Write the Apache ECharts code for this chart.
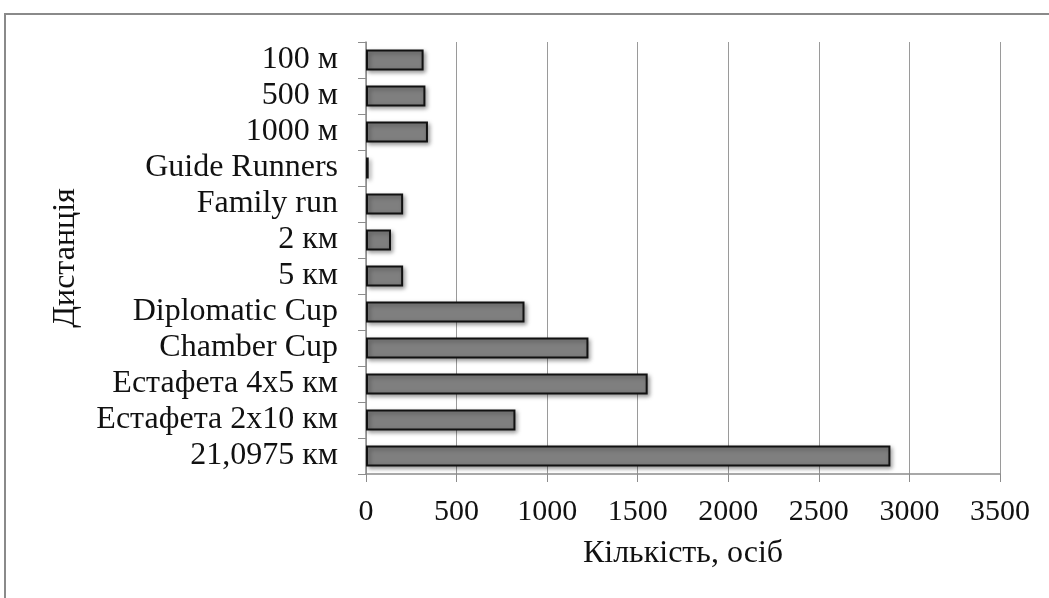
<!DOCTYPE html>
<html>
<head>
<meta charset="utf-8">
<script src="https://cdn.jsdelivr.net/npm/echarts@6/dist/echarts.min.js"></script>
<style>
  html, body { margin: 0; padding: 0; background: #fff; }
  #chart { width: 1049px; height: 598px; }
</style>
</head>
<body>
<div id="chart"></div>
<script>
// categories, top to bottom
const distances = ['100 м', '500 м', '1000 м', 'Guide Runners', 'Family run', '2 км', '5 км',
  'Diplomatic Cup', 'Chamber Cup', 'Естафета 4x5 км', 'Естафета 2x10 км', '21,0975 км'];
// participants per distance
const participants = [318, 328, 342, 15, 205, 138, 205, 875, 1228, 1555, 825, 2895];

const serif = '"Liberation Serif", "DejaVu Serif", serif';

const chart = echarts.init(document.getElementById('chart'));

chart.setOption({
  animation: false,
  backgroundColor: '#fff',
  grid: { left: 366, right: 49, top: 42, bottom: 124 },
  graphic: [
    {
      type: 'rect',
      shape: { x: 5, y: 14, width: 1200, height: 700 },
      style: { fill: 'none', stroke: '#8a8a8a', lineWidth: 2 },
      z: 0
    }
  ],
  xAxis: {
    type: 'value',
    min: 0,
    max: 3500,
    interval: 500,
    name: 'Кількість, осіб',
    nameLocation: 'middle',
    nameGap: 64,
    nameTextStyle: { fontFamily: serif, fontSize: 32, color: '#111' },
    axisLine: { show: true, lineStyle: { color: '#8c8c8c', width: 1.5 } },
    axisTick: { show: true, length: 8, lineStyle: { color: '#8c8c8c' } },
    axisLabel: {
      fontFamily: serif, fontSize: 30, color: '#111', margin: 23,
      formatter: v => String(v)
    },
    splitLine: { show: true, lineStyle: { color: '#9a9a9a', width: 1 } }
  },
  yAxis: {
    type: 'category',
    data: distances,
    inverse: true,
    name: 'Дистанція',
    nameLocation: 'middle',
    nameGap: 284,
    nameRotate: 90,
    nameTextStyle: { fontFamily: serif, fontSize: 32, color: '#111' },
    axisLine: { show: true, lineStyle: { color: '#8c8c8c', width: 1.5 } },
    axisTick: { show: true, length: 8, lineStyle: { color: '#8c8c8c' } },
    axisLabel: { fontFamily: serif, fontSize: 32, color: '#111', margin: 28, interval: 0 },
    splitLine: { show: false }
  },
  series: [
    {
      type: 'bar',
      data: participants,
      barWidth: 21,
      itemStyle: {
        color: '#7f7f7f',
        borderColor: '#111',
        borderWidth: 2,
        shadowColor: 'rgba(0,0,0,0.35)',
        shadowBlur: 4,
        shadowOffsetX: 2,
        shadowOffsetY: 2
      }
    }
  ]
});
</script>
</body>
</html>
